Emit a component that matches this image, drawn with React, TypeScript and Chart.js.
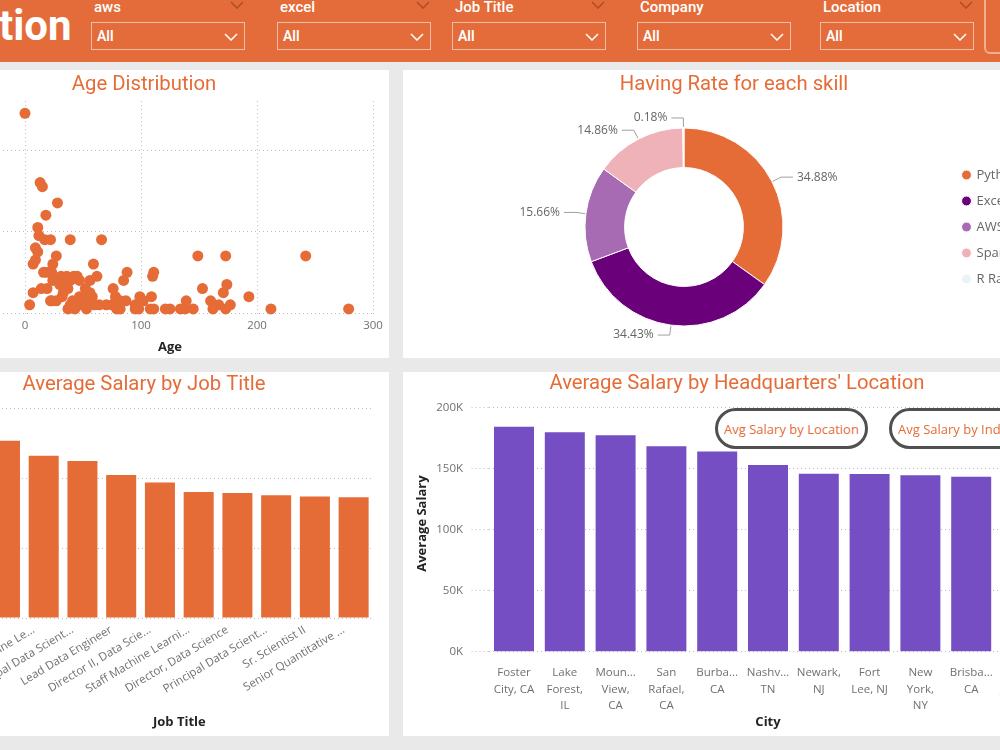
import React, { useEffect, useRef } from "react";
import { Chart, registerables } from "chart.js";
Chart.register(...registerables);

const TITLE_FONT = "Roboto, 'Noto Sans', sans-serif";
const LABEL_FONT = "'Segoe UI', 'Open Sans', sans-serif";
const ORANGE = "#E66C37";
const PURPLE = "#744EC2";
const GRID = "#BDBDBD";
const TICK = "#707070";
const AXIS_TITLE = "#252423";

// ---- Header slicers ----
const slicerNames = ["aws", "excel", "Job Title", "Company", "Location"];
const slicerValues = ["All", "All", "All", "All", "All"];
const headerTitle = "tion";

// ---- Age Distribution (scatter) ----
const ages = [0, 13, 15, 28, 18, 11, 12, 17, 22, 39, 66, 9, 11, 27, 9, 7, 24, 59, 19, 23, 42, 47, 62, 88, 85, 111, 110, 149, 173, 242, 153, 174, 171, 193, 28, 33, 36, 37, 14, 19, 7, 4, 23, 27, 32, 50, 56, 58, 76, 39, 45, 49, 53, 60, 37, 43, 53, 70, 75, 79, 82, 87, 79, 82, 95, 99, 95, 98, 102, 109, 108, 111, 121, 125, 134, 138, 145, 139, 160, 162, 167, 173, 177, 212, 279, 45, 56, 36, 30, 47, 64, 22, 78, 24, 39, 33, 41, 16, 31, 52];
const jobCounts = [49, 32, 31, 27, 24, 21, 19, 18, 18, 18, 18, 16, 15, 14, 13, 12, 12, 12, 10, 10, 9, 8, 9, 10, 8, 10, 9, 14, 14, 14, 6, 7, 5, 4, 8, 7, 7, 6, 6, 6, 5, 2, 3, 3, 4, 4, 5, 4, 6, 2, 2, 2, 3, 2, 1, 1, 1, 2, 2, 3, 3, 3, 1, 1, 2, 4, 1, 1, 3, 4, 1, 1, 1, 1, 1, 1, 1, 3, 3, 1, 2, 1, 2, 1, 1, 9, 8, 9, 7, 4, 2, 3, 4, 8, 8, 5, 3, 10, 9, 6];
const ageTicks = [0, 100, 200, 300];
const countTicks = [0, 20, 40];

// ---- Having Rate for each skill (doughnut) ----
const skillLabels = ["Python Rate", "Excel Rate", "AWS Rate", "Spark Rate", "R Rate"];
const skillShares = [34.88, 34.43, 15.66, 14.86, 0.18];
const skillColors = ["#E66C37", "#6B007B", "#A66BB3", "#EFB2B8", "#EAF4F8"];

// ---- Average Salary by Job Title ----
const jobTitles = [
  "Director of Machine L...",
  "Principal Machine Le...",
  "Principal Data Scient...",
  "Lead Data Engineer",
  "Director II, Data Scie...",
  "Staff Machine Learni...",
  "Director, Data Science",
  "Principal Data Scient...",
  "Sr. Scientist II",
  "Senior Quantitative ...",
];
const jobSalaries = [254000, 232500, 225000, 205000, 194000, 180500, 179000, 176000, 174000, 173000];
const jobSalaryTicks = [0, 100000, 200000, 300000];

// ---- Average Salary by Headquarters' Location ----
const cityLabels = [
  ["Foster", "City, CA"],
  ["Lake", "Forest,", "IL"],
  ["Moun...", "View,", "CA"],
  ["San", "Rafael,", "CA"],
  ["Burba...", "CA"],
  ["Nashv...", "TN"],
  ["Newark,", "NJ"],
  ["Fort", "Lee, NJ"],
  ["New", "York,", "NY"],
  ["Brisba...", "CA"],
  ["San", "Jose, CA"],
];
const citySalaries = [184400, 179800, 177400, 168400, 164000, 153000, 145900, 145700, 144600, 143400, 142000];
const citySalaryTicks = [0, 50000, 100000, 150000, 200000];

const buttonLabels = ["Avg Salary by Location", "Avg Salary by Industry"];

const kFormat = (v: number) => `${Math.round(v / 1000)}K`;

const donutLabelPlugin = {
  id: "donutLabels",
  afterDatasetsDraw(chart: any) {
    const meta = chart.getDatasetMeta(0);
    const values = chart.data.datasets[0].data as number[];
    const ctx = chart.ctx as CanvasRenderingContext2D;
    ctx.save();
    ctx.font = `12px ${LABEL_FONT}`;
    ctx.strokeStyle = "#A0A0A0";
    ctx.lineWidth = 1;
    ctx.fillStyle = "#666666";
    ctx.textBaseline = "middle";
    meta.data.forEach((arc: any, i: number) => {
      const mid = (arc.startAngle + arc.endAngle) / 2;
      const c = Math.cos(mid);
      const s = Math.sin(mid);
      const r = arc.outerRadius;
      const x0 = arc.x + c * (r + 1);
      const y0 = arc.y + s * (r + 1);
      const x1 = arc.x + c * (r + 10);
      const y1 = arc.y + s * (r + 10);
      const dir = c >= 0 ? 1 : -1;
      const x2 = x1 + dir * 12;
      ctx.beginPath();
      ctx.moveTo(x0, y0);
      ctx.lineTo(x1, y1);
      ctx.lineTo(x2, y1);
      ctx.stroke();
      ctx.textAlign = dir > 0 ? "left" : "right";
      ctx.fillText(`${values[i].toFixed(2)}%`, x2 + dir * 4, y1);
    });
    ctx.restore();
  },
};

function ChartBox({ make, left, top, width, height }: any) {
  const ref = useRef<HTMLCanvasElement>(null);
  useEffect(() => {
    const chart = new Chart(ref.current as HTMLCanvasElement, make());
    return () => chart.destroy();
  }, []);
  return (
    <canvas
      ref={ref}
      width={width}
      height={height}
      style={{ position: "absolute", left, top, width, height }}
    />
  );
}

const titleOpts = (text: string, top: number, bottom: number) => ({
  display: true,
  text,
  color: ORANGE,
  font: { family: TITLE_FONT, size: 20.3, weight: "normal", lineHeight: 0.95 },
  padding: { top, bottom },
});

const axisTitle = (text: string) => ({
  display: true,
  text,
  color: AXIS_TITLE,
  font: { family: LABEL_FONT, size: 13, weight: "bold" },
  padding: { top: 4, bottom: 2 },
});

const dotted = { display: false, dash: [1, 3] };

function makeScatter(): any {
  return {
    type: "scatter",
    data: {
      datasets: [
        {
          data: ages.map((a, i) => ({ x: a, y: jobCounts[i] })),
          backgroundColor: ORANGE,
          pointRadius: 5.5,
          pointHoverRadius: 5.5,
          borderWidth: 0,
          clip: false,
        },
      ],
    },
    options: {
      animation: false,
      responsive: false,
      layout: { padding: { left: 0, right: 16, top: 0, bottom: 0.6 } },
      plugins: {
        legend: { display: false },
        tooltip: { enabled: false },
        title: titleOpts("Age Distribution", 5.36, 6.45),
      },
      scales: {
        x: {
          type: "linear",
          min: -50,
          max: 300,
          afterBuildTicks: (ax: any) => {
            ax.ticks = ageTicks.map((v) => ({ value: v }));
          },
          afterFit: (s: any) => {
            s.height = 40.3;
            s.paddingLeft = 0;
            s.paddingRight = 0;
          },
          grid: { color: GRID, drawTicks: false },
          border: dotted,
          ticks: { color: TICK, font: { family: LABEL_FONT, size: 11.5 }, padding: 2 },
          title: { ...axisTitle("Age"), padding: { top: 2, bottom: 2 } },
        },
        y: {
          min: -1,
          max: 52,
          afterBuildTicks: (ax: any) => {
            ax.ticks = countTicks.map((v) => ({ value: v }));
          },
          afterFit: (s: any) => {
            s.width = 52;
          },
          grid: { color: GRID, drawTicks: false },
          border: dotted,
          ticks: { color: TICK, font: { family: LABEL_FONT, size: 11 }, padding: 6 },
        },
      },
    },
  };
}

function makeDonut(): any {
  return {
    type: "doughnut",
    data: {
      labels: skillLabels,
      datasets: [
        {
          data: skillShares,
          backgroundColor: skillColors,
          borderColor: "#ffffff",
          borderWidth: 1,
          hoverOffset: 0,
        },
      ],
    },
    options: {
      animation: false,
      responsive: false,
      cutout: "60%",
      layout: { padding: { left: 0, right: 0, top: 0, bottom: 31.5 } },
      plugins: {
        tooltip: { enabled: false },
        title: titleOpts("Having Rate for each skill", 5.36, 32.85),
        legend: {
          display: true,
          position: "right",
          fullSize: false,
          maxWidth: 100,
          align: "center",
          labels: {
            usePointStyle: true,
            pointStyle: "circle",
            boxWidth: 7,
            boxHeight: 7,
            padding: 13,
            color: "#666666",
            font: { family: LABEL_FONT, size: 13 },
          },
        },
      },
    },
    plugins: [donutLabelPlugin],
  };
}

function makeJobBars(): any {
  return {
    type: "bar",
    data: {
      labels: jobTitles,
      datasets: [
        {
          data: jobSalaries,
          backgroundColor: ORANGE,
          categoryPercentage: 1,
          barPercentage: 0.775,
        },
      ],
    },
    options: {
      animation: false,
      responsive: false,
      layout: { padding: { left: 0, right: 16, top: 0, bottom: 4.2 } },
      plugins: {
        legend: { display: false },
        tooltip: { enabled: false },
        title: titleOpts("Average Salary by Job Title", 4.36, 0.05),
      },
      scales: {
        x: {
          grid: { display: false, drawTicks: false },
          border: { display: false },
          afterFit: (s: any) => {
            s.height = 113.8;
            s.paddingLeft = 0;
            s.paddingRight = 0;
          },
          ticks: {
            autoSkip: false,
            minRotation: 31,
            maxRotation: 31,
            labelOffset: -10,
            padding: 5,
            color: TICK,
            font: { family: LABEL_FONT, size: 11.5 },
          },
          title: axisTitle("Job Title"),
        },
        y: {
          min: 0,
          max: 320000,
          afterBuildTicks: (ax: any) => {
            ax.ticks = jobSalaryTicks.map((v) => ({ value: v }));
          },
          afterFit: (s: any) => {
            s.width = 70.6;
          },
          grid: { color: GRID, drawTicks: false },
          border: dotted,
          ticks: { color: TICK, font: { family: LABEL_FONT, size: 11 }, callback: (v: any) => kFormat(v) },
          title: axisTitle("Average Salary"),
        },
      },
    },
  };
}

function makeCityBars(): any {
  return {
    type: "bar",
    data: {
      labels: cityLabels,
      datasets: [
        {
          data: citySalaries,
          backgroundColor: PURPLE,
          categoryPercentage: 1,
          barPercentage: 0.787,
        },
      ],
    },
    options: {
      animation: false,
      responsive: false,
      layout: { padding: { left: 6.9, right: 0, top: 0, bottom: 4.2 } },
      plugins: {
        legend: { display: false },
        tooltip: { enabled: false },
        title: titleOpts("Average Salary by Headquarters' Location", 4.36, 1.85),
      },
      scales: {
        x: {
          grid: { display: false, drawTicks: false },
          border: { display: false },
          afterFit: (s: any) => {
            s.height = 80.1;
            s.paddingLeft = 0;
            s.paddingRight = 0;
          },
          ticks: {
            autoSkip: false,
            maxRotation: 0,
            minRotation: 0,
            padding: 13.4,
            color: TICK,
            font: { family: LABEL_FONT, size: 11.5, lineHeight: 1.4 },
          },
          title: axisTitle("City"),
        },
        y: {
          min: 0,
          max: 210000,
          afterBuildTicks: (ax: any) => {
            ax.ticks = citySalaryTicks.map((v) => ({ value: v }));
          },
          afterFit: (s: any) => {
            s.width = 77.7;
          },
          grid: {
            color: GRID,
            drawTicks: true,
            tickLength: 17,
            tickColor: GRID,
            tickBorderDash: [1, 3],
          },
          border: dotted,
          ticks: { color: TICK, font: { family: LABEL_FONT, size: 11.5 }, padding: 8.6, callback: (v: any) => kFormat(v) },
          title: { ...axisTitle("Average Salary"), padding: { top: 4, bottom: 4 } },
        },
        y2: {
          position: "right",
          display: true,
          grid: { display: false, drawTicks: false },
          border: { display: false },
          ticks: { display: false },
          afterFit: (s: any) => {
            s.width = 15.6;
          },
        },
      },
    },
  };
}

function Chevron({ color, w = 14, h = 8, sw = 1.6 }: any) {
  return (
    <svg width={w} height={h} style={{ display: "block" }}>
      <polyline points={`1,1 ${w / 2},${h - 1} ${w - 1},1`} fill="none" stroke={color} strokeWidth={sw} />
    </svg>
  );
}

const SLICER_X = [91, 277, 452, 637, 820];
const SLICER_TOP_CHEVRON = [true, true, true, false, true];

export default function App() {
  return (
    <div
      style={{
        position: "fixed",
        left: 0,
        top: 0,
        width: 1000,
        height: 750,
        overflow: "hidden",
        background: "#E9E9E9",
      }}
    >
      {/* Header */}
      <div style={{ position: "absolute", left: 0, top: 0, width: 1000, height: 62, background: "#E46C3A" }} />
      <div
        style={{
          position: "absolute",
          left: -1,
          top: 5,
          font: `700 42px ${TITLE_FONT}`,
          lineHeight: "42px",
          color: "#ffffff",
          whiteSpace: "nowrap",
        }}
      >
        {headerTitle}
      </div>
      {slicerNames.map((name, i) => {
        const x = SLICER_X[i];
        return (
          <React.Fragment key={name}>
            <div
              style={{
                position: "absolute",
                left: x + 3,
                top: -2,
                font: `500 15px ${TITLE_FONT}`,
                lineHeight: "18px",
                color: "#ffffff",
                whiteSpace: "nowrap",
              }}
            >
              {name}
            </div>
            {SLICER_TOP_CHEVRON[i] && (
              <div style={{ position: "absolute", left: x + 139, top: 1 }}>
                <Chevron color="rgba(110,45,15,0.45)" w={14} h={8} />
              </div>
            )}
            <div
              style={{
                position: "absolute",
                left: x,
                top: 22,
                width: 154,
                height: 28,
                boxSizing: "border-box",
                border: "1.5px solid rgba(255,255,255,0.55)",
              }}
            >
              <div
                style={{
                  position: "absolute",
                  left: 5,
                  top: 5,
                  font: `600 14px ${TITLE_FONT}`,
                  lineHeight: "16px",
                  color: "#ffffff",
                }}
              >
                {slicerValues[i]}
              </div>
              <div style={{ position: "absolute", right: 6, top: 10 }}>
                <Chevron color="#ffffff" w={14} h={8} sw={1.5} />
              </div>
            </div>
          </React.Fragment>
        );
      })}
      <div
        style={{
          position: "absolute",
          left: 984,
          top: -8,
          width: 40,
          height: 62,
          boxSizing: "border-box",
          border: "2px solid rgba(255,255,255,0.45)",
          borderRadius: 6,
        }}
      />

      {/* Panels */}
      <div style={{ position: "absolute", left: -5, top: 70, width: 394, height: 288, background: "#fff" }} />
      <div style={{ position: "absolute", left: 403, top: 70, width: 620, height: 288, background: "#fff" }} />
      <div style={{ position: "absolute", left: -5, top: 372, width: 394, height: 364, background: "#fff" }} />
      <div style={{ position: "absolute", left: 403, top: 372, width: 620, height: 364, background: "#fff" }} />

      <ChartBox make={makeScatter} left={-85} top={70} width={474} height={288} />
      <ChartBox make={makeDonut} left={418} top={70} width={632} height={288} />
      <ChartBox make={makeJobBars} left={-85} top={371} width={474} height={365} />
      <ChartBox make={makeCityBars} left={404} top={370} width={659} height={366} />

      {/* Buttons */}
      {buttonLabels.map((label, i) => (
        <div
          key={label}
          style={{
            position: "absolute",
            left: i === 0 ? 715 : 889,
            top: 408,
            width: 153,
            height: 41,
            boxSizing: "border-box",
            border: "3px solid #505050",
            borderRadius: 21,
            background: "#ffffff",
            color: ORANGE,
            font: `13px ${LABEL_FONT}`,
            display: "flex",
            alignItems: "center",
            justifyContent: i === 0 ? "center" : "flex-start",
            paddingLeft: i === 0 ? 0 : 6,
            whiteSpace: "nowrap",
            overflow: "hidden",
          }}
        >
          {label}
        </div>
      ))}
    </div>
  );
}
